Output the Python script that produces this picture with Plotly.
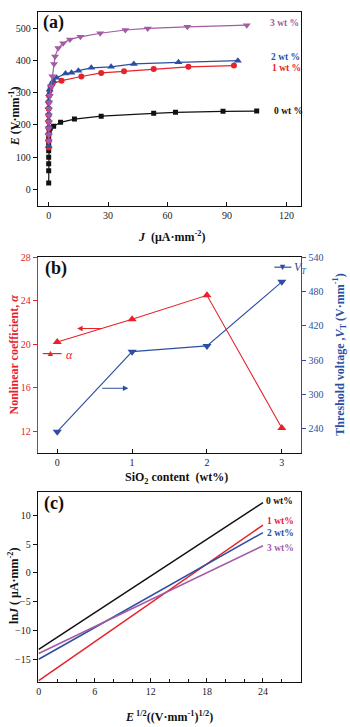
import plotly.graph_objects as go

W, H = 350, 727
def px(x): return x / W
def py(y): return 1 - y / H

RED = "#e5232b"
BLUE = "#2c4fa3"
PURPLE = "#a45aa4"
BLACK = "#111111"
FONT = "Liberation Serif"

# ---------- Panel (a) data ----------
J0 = [0, 0, 0, 0, 0, 0, 0, 0.3, 0.8, 2.5, 6, 13, 26.5, 53, 64, 88, 105]
E0 = [20, 58, 80, 100, 120, 141, 160, 181, 190, 196, 208, 218, 227, 236, 239, 242, 243]
J1 = [0, 0, 0, 0, 0, 0, 0, 0, 0.2, 0.5, 1, 2, 6.5, 16.5, 26.5, 38, 53, 70.5, 93.5]
E1 = [130, 150, 170, 190, 210, 230, 250, 270, 290, 305, 318, 328, 337, 350, 361, 366, 373, 380, 384]
J2 = [0, 0, 0, 0, 0, 0, 0, 0, 0.2, 0.5, 1.2, 2.3, 4, 8.5, 11.5, 15, 21.5, 31.5, 43, 65.5, 95.5]
E2 = [135, 155, 175, 195, 215, 235, 255, 275, 295, 310, 325, 337, 346, 359, 362, 368, 377, 380, 389, 394, 399]
J3 = [0, 0, 0, 0, 0, 0, 0.3, 0.6, 1.2, 1.8, 2.7, 3.2, 4.8, 7.3, 10.7, 16, 26, 38.7, 50, 70, 100]
E3 = [150, 170, 190, 210, 230, 250, 270, 290, 320, 351, 389, 412, 438, 453, 465, 473, 484, 494, 499, 504, 509]

# ---------- Panel (b) data ----------
sio2 = [0, 1, 2, 3]
alpha = [20.2, 22.3, 24.5, 12.3]
vt = [235, 375, 385, 497]

# ---------- Panel (c) data ----------
sqrtE = [0, 24]
lnJ0 = [-13.3, 12.2]
lnJ1 = [-18.7, 8.3]
lnJ2 = [-15.0, 7.0]
lnJ3 = [-14.0, 4.7]

fig = go.Figure()

# (a)
for J, E, c, sym, sz in [(J0, E0, BLACK, "square", 5), (J1, E1, RED, "circle", 6),
                         (J2, E2, BLUE, "triangle-up", 7), (J3, E3, PURPLE, "triangle-down", 7)]:
    fig.add_trace(go.Scatter(x=J, y=E, mode="lines+markers", xaxis="x", yaxis="y",
                             line=dict(color=c, width=1.2), marker=dict(color=c, symbol=sym, size=sz),
                             showlegend=False))

# (b)
fig.add_trace(go.Scatter(x=sio2, y=alpha, mode="lines+markers", xaxis="x2", yaxis="y2",
                         line=dict(color=RED, width=1.1),
                         marker=dict(color=RED, symbol="triangle-up", size=8), showlegend=False))
fig.add_trace(go.Scatter(x=sio2, y=vt, mode="lines+markers", xaxis="x2", yaxis="y3",
                         line=dict(color=BLUE, width=1.1),
                         marker=dict(color=BLUE, symbol="triangle-down", size=8), showlegend=False))

# (c)
for y, c in [(lnJ0, BLACK), (lnJ1, RED), (lnJ2, BLUE), (lnJ3, PURPLE)]:
    fig.add_trace(go.Scatter(x=sqrtE, y=y, mode="lines", xaxis="x3", yaxis="y4",
                             line=dict(color=c, width=1.5), showlegend=False))

tickf = dict(family=FONT, size=10, color="#222222")
xd = [px(36), px(301)]

ax_common = dict(showgrid=False, zeroline=False, linewidth=1.2, tickwidth=1, ticklen=4)

fig.update_layout(
    width=W, height=H, margin=dict(l=0, r=0, t=0, b=0),
    paper_bgcolor="white", plot_bgcolor="white",
    font=dict(family=FONT, color=BLACK),
    xaxis=dict(domain=xd, anchor="y", range=[-5.5, 127.5], tickvals=[0, 30, 60, 90, 120],
               ticks="inside", mirror=True, linecolor=BLACK, tickcolor=BLACK, tickfont=tickf, **ax_common),
    yaxis=dict(domain=[py(202), py(7)], anchor="x", range=[-50, 550], tickvals=[0, 100, 200, 300, 400, 500],
               ticks="outside", mirror=True, linecolor=BLACK, tickcolor=BLACK, tickfont=tickf, **ax_common),
    xaxis2=dict(domain=xd, anchor="y2", range=[-0.26, 3.26], tickvals=[0, 1, 2, 3],
                ticks="inside", mirror=True, linecolor=BLACK, tickcolor=BLACK, tickfont=tickf, **ax_common),
    yaxis2=dict(domain=[py(451), py(254)], anchor="x2", range=[10, 28], tickvals=[12, 16, 20, 24, 28],
                ticks="outside", linecolor=RED, tickcolor=RED,
                tickfont=dict(family=FONT, size=10, color=RED), **ax_common),
    yaxis3=dict(overlaying="y2", side="right", anchor="x2", range=[198, 540],
                tickvals=[240, 300, 360, 420, 480, 540],
                ticks="outside", linecolor=BLUE, tickcolor=BLUE,
                tickfont=dict(family=FONT, size=10, color=BLUE), **ax_common),
    xaxis3=dict(domain=xd, anchor="y4", range=[-0.1, 28.1], tickvals=[0, 6, 12, 18, 24],
                ticks="inside", mirror=True, linecolor=BLACK, tickcolor=BLACK, tickfont=tickf,
                minor=dict(dtick=2, ticks="inside", ticklen=3, tickcolor=BLACK), **ax_common),
    yaxis4=dict(domain=[py(682), py(490)], anchor="x3", range=[-19, 14.1], tickvals=[-15, -10, -5, 0, 5, 10],
                ticks="outside", mirror=True, linecolor=BLACK, tickcolor=BLACK, tickfont=tickf, **ax_common),
)

ann = []
def txt(x, y, s, color=BLACK, size=10, angle=0, xanchor="center", bold=True, italic=False):
    if bold:
        s = "<b>" + s + "</b>"
    if italic:
        s = "<i>" + s + "</i>"
    ann.append(dict(x=px(x), y=py(y), xref="paper", yref="paper", text=s, showarrow=False,
                    textangle=angle, xanchor=xanchor, yanchor="middle",
                    font=dict(family=FONT, size=size, color=color)))

# panel labels
txt(52, 18, "(a)", size=18)
txt(54, 265, "(b)", size=18)
txt(52, 502, "(c)", size=18)

# (a) series labels
txt(268, 18, "3 wt %", PURPLE, 9.5, xanchor="left")
txt(269, 52, "2 wt %", BLUE, 9.5, xanchor="left")
txt(270, 63, "1 wt %", RED, 9.5, xanchor="left")
txt(272, 107, "0 wt %", BLACK, 9.5, xanchor="left")

# (a) axis titles
txt(12, 112, "<i>E</i> (V·mm<sup>-1</sup>)", size=12, angle=-90)
txt(170, 233, "<i>J</i>  (μA·mm<sup>-2</sup>)", size=12)

# (b) axis titles
txt(12, 352, "Nonlinear coefficient, <i>α</i>", RED, 12, angle=-90)
txt(340, 352, "Threshold voltage ,<i>V</i><sub>T</sub> (V·mm<sup>-1</sup>)", BLUE, 12, angle=-90)
txt(175, 476, "SiO<sub>2</sub> content  (wt%)", size=12)

# (b) legend samples
shapes = [
    dict(type="line", xref="paper", yref="paper", x0=px(41), x1=px(60), y0=py(351), y1=py(351),
         line=dict(color=RED, width=1.2)),
    dict(type="line", xref="paper", yref="paper", x0=px(274), x1=px(291), y0=py(264), y1=py(264),
         line=dict(color=BLUE, width=1.2)),
]
txt(49, 350, "▲", RED, 9, bold=False)
txt(62, 352, "α", RED, 12, xanchor="left", bold=False, italic=True)
txt(282.5, 264, "▼", BLUE, 9, bold=False)
txt(292, 265, "V<sub>T</sub>", BLUE, 12, xanchor="left", bold=False, italic=True)

# (b) arrows
ann.append(dict(x=0.265, y=21.45, xref="x2", yref="y2", ax=0.61, ay=21.45, axref="x2", ayref="y2",
                showarrow=True, arrowhead=2, arrowsize=1, arrowwidth=1.1, arrowcolor=RED, text=""))
ann.append(dict(x=0.95, y=311, xref="x2", yref="y3", ax=0.58, ay=311, axref="x2", ayref="y3",
                showarrow=True, arrowhead=2, arrowsize=1, arrowwidth=1.1, arrowcolor=BLUE, text=""))

# (c) series labels
txt(264, 499, "0 wt%", BLACK, 9.5, xanchor="left")
txt(265, 520, "1 wt%", RED, 9.5, xanchor="left")
txt(265, 532, "2 wt%", BLUE, 9.5, xanchor="left")
txt(265, 547, "3 wt%", PURPLE, 9.5, xanchor="left")

# (c) axis titles
txt(12, 585, "ln<i>J</i> ( μA·mm<sup>-2</sup>)", size=12, angle=-90)
txt(168, 716, "<i>E</i><sup> 1/2</sup>((V·mm<sup>-1</sup>)<sup>1/2</sup>)", size=12)

fig.update_layout(annotations=ann, shapes=shapes)
fig.write_html("out.html")
